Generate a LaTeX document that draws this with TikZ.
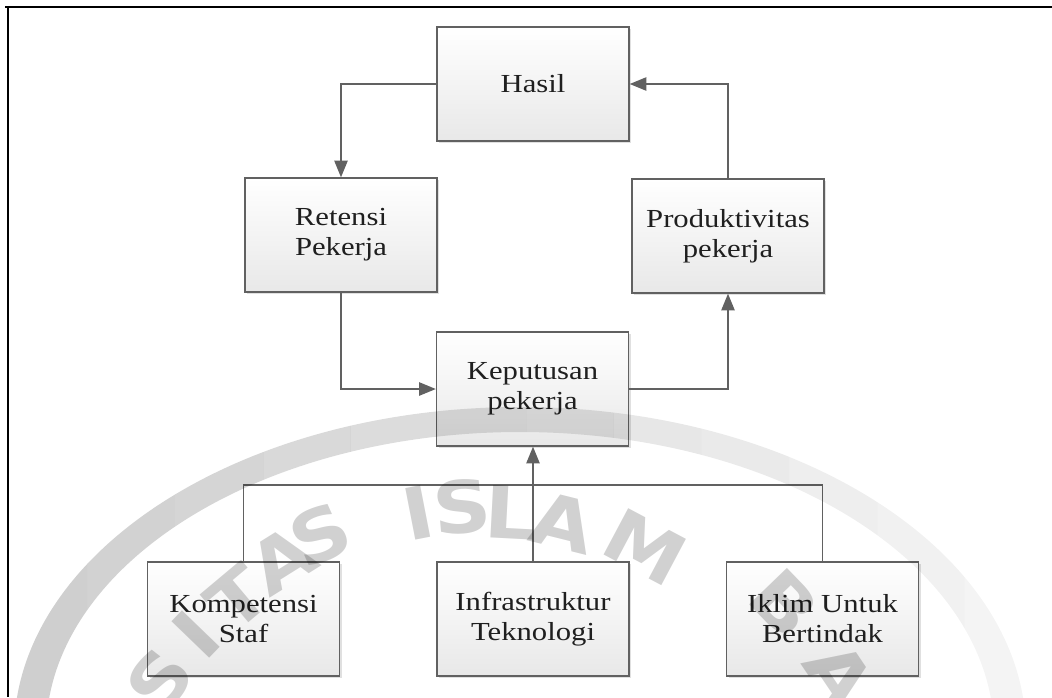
\documentclass[tikz,border=0pt]{standalone}
\usepackage{fontspec}
\usetikzlibrary{arrows.meta,shadows}
\newfontfamily\boxfont{Liberation Serif}[FakeStretch=1.18]
\newfontfamily\markfont{DejaVu Sans}[FakeStretch=1.12]

\tikzset{
  flowbox/.style={
    draw=black!62, line width=1.05pt, rectangle,
    top color=white, bottom color=black!9,
    minimum width=144pt, minimum height=85.5pt, inner sep=0pt,
    align=center, text=black!88,
    font=\boxfont\fontsize{19.5pt}{22.5pt}\selectfont,
    drop shadow={shadow xshift=1.8pt, shadow yshift=-1.8pt, fill=black, opacity=0.12}
  },
  link/.style={draw=black!62, line width=1.05pt},
  flow/.style={link, -{Triangle[length=12.5pt, width=10pt]}},
  frameline/.style={draw=black, line width=2.2pt},
  markletter/.style={text=black, text opacity=0.18, inner sep=0pt,
    font=\markfont\bfseries\fontsize{54pt}{54pt}\selectfont}
}

\begin{document}
\begin{tikzpicture}[x=0.75pt, y=-0.75pt]
  \useasboundingbox (0,0) rectangle (1052,697);
  \fill[white] (0,0) rectangle (1052,697);

  % page frame (top and left rules)
  \draw[frameline] (5,7) -- (1052,7);
  \draw[frameline] (8,6) -- (8,697);

  % boxes
  \node[flowbox] (hasil) at (533,84)    {Hasil};
  \node[flowbox] (ret)   at (341,235)   {Retensi\\Pekerja};
  \node[flowbox] (prod)  at (728,236)   {Produktivitas\\pekerja};
  \node[flowbox] (kep)   at (532.5,389) {Keputusan\\pekerja};
  \node[flowbox] (komp)  at (243.5,619) {Kompetensi\\Staf};
  \node[flowbox] (infra) at (533,619)   {Infrastruktur\\Teknologi};
  \node[flowbox] (iklim) at (822.5,619) {Iklim Untuk\\Bertindak};

  % cycle connectors
  \draw[flow] (hasil.west) -| (ret.north);
  \draw[flow] (prod.north) |- (hasil.east);
  \draw[flow] (ret.south) |- (kep.west);
  \draw[flow] (kep.east) -| (prod.south);

  % supporting factors feeding the decision
  \coordinate (bus) at (533,485);
  \draw[link] (komp.north) |- (bus) -| (iklim.north);
  \draw[flow] (infra.north) -- (infra.north |- kep.south);

  % university seal watermark: ring fading out towards the right
  \begin{scope}
    \clip (0,0) rectangle (1052,697);
    \foreach \i in {0,...,11} {
      \begin{scope}
        \clip ({\i*87.7},0) rectangle ({(\i+1)*87.7},697);
        \fill[black, even odd rule, fill opacity={0.19-0.0135*\i}]
          (520,733) ellipse [x radius=506, y radius=326]
          (520,733) ellipse [x radius=474, y radius=301];
      \end{scope}
    }
    \node[markletter, rotate=52]  at (160,680) {S};
    \node[markletter, rotate=46]  at (196,634) {I};
    \node[markletter, rotate=40]  at (238,598) {T};
    \node[markletter, rotate=32]  at (282,560) {A};
    \node[markletter, rotate=24]  at (320,535) {S};
    \node[markletter, rotate=11]  at (418,513) {I};
    \node[markletter, rotate=5]   at (462,507) {S};
    \node[markletter, rotate=-3]  at (511,513) {L};
    \node[markletter, rotate=-14] at (563,523) {A};
    \node[markletter, rotate=-28] at (645,547) {M};
    \node[markletter, rotate=-46] at (785,603) {B};
    \node[markletter, rotate=-56] at (840,675) {A};
  \end{scope}
\end{tikzpicture}
\end{document}
